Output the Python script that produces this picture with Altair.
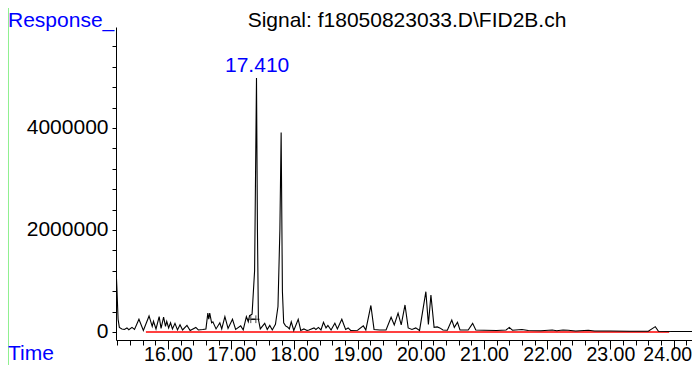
import altair as alt
import pandas as pd

# ---- data ----
time_min = [15.18, 15.19, 15.21, 15.23, 15.27, 15.31, 15.35, 15.38, 15.43, 15.47,
            15.54, 15.61, 15.70, 15.75, 15.77, 15.81, 15.86, 15.89, 15.93, 15.96,
            15.98, 16.01, 16.04, 16.07, 16.11, 16.15, 16.19, 16.23, 16.30, 16.35,
            16.44, 16.48, 16.55, 16.60, 16.63, 16.645, 16.66, 16.69, 16.71, 16.76,
            16.82, 16.85, 16.90, 16.95, 17.02, 17.07, 17.15, 17.19, 17.24, 17.27,
            17.29, 17.33, 17.37, 17.40, 17.415, 17.43, 17.46, 17.53, 17.57, 17.61,
            17.65, 17.70, 17.74, 17.77, 17.79, 17.81, 17.83, 17.86, 17.89, 17.92,
            17.95, 17.99, 18.06, 18.10, 18.15, 18.20, 18.23, 18.31, 18.34, 18.38,
            18.42, 18.46, 18.50, 18.53, 18.58, 18.64, 18.68, 18.75, 18.81, 18.85,
            18.89, 19.00, 19.09, 19.13, 19.21, 19.26, 19.35, 19.45, 19.53, 19.58,
            19.64, 19.69, 19.75, 19.80, 19.86, 19.92, 19.98, 20.08, 20.12, 20.16,
            20.21, 20.26, 20.30, 20.35, 20.42, 20.49, 20.53, 20.58, 20.62, 20.75,
            20.82, 20.87, 21.00, 21.20, 21.35, 21.40, 21.45, 21.60, 21.70, 21.90,
            22.08, 22.15, 22.25, 22.33, 22.45, 22.65, 22.75, 23.00, 23.30, 23.60,
            23.71, 23.76, 24.00, 24.41]
response = [1170000, 900000, 250000, 90000, 60000, 50000, 80000, 45000, 90000, 50000,
            250000, 30000, 315000, 110000, 210000, 60000, 300000, 70000, 290000, 110000,
            210000, 80000, 180000, 60000, 170000, 40000, 140000, 40000, 130000, 30000,
            90000, 40000, 50000, 60000, 370000, 250000, 370000, 180000, 200000, 60000,
            180000, 60000, 300000, 70000, 250000, 50000, 120000, 40000, 300000, 200000,
            320000, 350000, 1200000, 4980000, 2000000, 250000, 60000, 170000, 50000, 130000,
            40000, 150000, 500000, 2000000, 3910000, 800000, 180000, 120000, 100000, 60000,
            200000, 30000, 250000, 30000, 60000, 30000, 40000, 80000, 50000, 90000,
            40000, 190000, 80000, 130000, 40000, 170000, 60000, 250000, 50000, 80000,
            30000, 35000, 120000, 40000, 520000, 50000, 40000, 40000, 290000, 140000,
            370000, 140000, 530000, 80000, 50000, 80000, 30000, 790000, 150000, 725000,
            90000, 100000, 80000, 40000, 35000, 235000, 90000, 190000, 40000, 40000,
            170000, 40000, 35000, 30000, 40000, 90000, 35000, 50000, 30000, 25000,
            40000, 25000, 40000, 35000, 20000, 35000, 20000, 20000, 15000, 15000,
            105000, 15000, 10000, 10000]

baseline_t = [15.65, 23.93]
baseline_v = [0, 0]

integ_t = [17.31, 17.39]
integ_v = [250000, 250000]

peak_rt = [17.41]
peak_v = [4980000]
peak_text = ["17.410"]

x_tick_values = [round(15.2 + 0.2 * i, 1) for i in range(46)]
y_tick_values = [400000 * i for i in range(15)]

title_text = "Signal: f18050823033.D\\FID2B.ch"

FONT = "Liberation Sans"
BLUE = "#0000ff"
GREEN = "#90f090"

sig_df = pd.DataFrame({"t": time_min, "v": response})
base_df = pd.DataFrame({"t": baseline_t, "v": baseline_v})
integ_df = pd.DataFrame({"t": integ_t, "v": integ_v})
peak_df = pd.DataFrame({"t": peak_rt, "v": peak_v, "label": peak_text})
one = pd.DataFrame({"a": [0]})

# page layout: plot area from x=116..692, y=27..340 (63.2 px per minute)
W, H = 576, 313
PL, PT, PB = 108, 19, 25

x_scale = alt.Scale(domain=[15.177, 15.177 + W / 63.2], nice=False, zero=False)
y_scale = alt.Scale(domain=[-157000, 5980000], nice=False, zero=False)

is_major_x = "abs(datum.value - round(datum.value)) < 0.001"
is_last = "datum.value > 23.9"
x_axis = alt.Axis(
    values=x_tick_values,
    labelExpr=f"{is_major_x} ? format(datum.value, '.2f') : ''",
    tickSize={"condition": {"test": is_major_x, "value": 9}, "value": 5},
    labelAlign={"condition": {"test": is_last, "value": "right"}, "value": "center"},
    labelOffset={"condition": {"test": is_last, "value": 18}, "value": 0},
    labelBaseline="alphabetic", labelPadding=11,
    grid=False, domainColor="black", tickColor="black", labelColor="black",
    labelFont=FONT, labelFontSize=19.5, labelOverlap=False, labelFlush=False,
    labelBound=False, title=None,
)
y_axis = alt.Axis(
    values=y_tick_values,
    labelExpr="datum.value % 2000000 === 0 ? format(datum.value, 'd') : ''",
    tickSize=4, labelPadding=4,
    grid=False, domainColor="black", tickColor="black", labelColor="black",
    labelFont=FONT, labelFontSize=21, labelOverlap=False, labelFlush=False,
    title=None,
)

def X():
    return alt.X("t:Q", scale=x_scale, axis=x_axis)

def Y():
    return alt.Y("v:Q", scale=y_scale, axis=y_axis)

border_left = alt.Chart(one).mark_rule(color=GREEN, strokeWidth=1).encode(
    x=alt.value(-PL + 0.5), y=alt.value(-PT), y2=alt.value(H + PB))

baseline = alt.Chart(base_df).mark_line(color="#ff0000", strokeWidth=1.5).encode(
    x=X(), y=Y())

signal = alt.Chart(sig_df).mark_line(color="black", strokeWidth=1.1, clip=True).encode(
    x=X(), y=Y())

integ_line = alt.Chart(integ_df).mark_line(color="black", strokeWidth=1).encode(
    x=X(), y=Y())
integ_marks = alt.Chart(integ_df).mark_point(
    shape="M-1,0L1,0M0,-1L0,1", size=60, color="black", filled=False, strokeWidth=1
).encode(x=X(), y=Y())

peak_label = alt.Chart(peak_df).mark_text(
    color=BLUE, font=FONT, fontSize=21, dy=-12, baseline="middle", align="center"
).encode(x=X(), y=Y(), text="label:N")

title = alt.Chart(one).mark_text(
    text=title_text, font=FONT, fontSize=21, color="black", align="center",
    baseline="alphabetic"
).encode(x=alt.value(291), y=alt.value(0))
resp = alt.Chart(one).mark_text(
    text="Response_", font=FONT, fontSize=21, color=BLUE, align="left",
    baseline="alphabetic"
).encode(x=alt.value(-PL), y=alt.value(0))
time_lbl = alt.Chart(one).mark_text(
    text="Time", font=FONT, fontSize=21, color=BLUE, align="left", baseline="alphabetic"
).encode(x=alt.value(-PL), y=alt.value(H + 20))

chart = alt.layer(
    border_left, baseline, signal, integ_line, integ_marks,
    peak_label, title, resp, time_lbl
).properties(
    width=W, height=H, autosize="none",
    padding={"left": PL, "top": PT, "right": 0, "bottom": PB},
).configure(background="white").configure_view(stroke=None)

chart.save("out.html", embed_options={"renderer": "svg", "actions": False})
